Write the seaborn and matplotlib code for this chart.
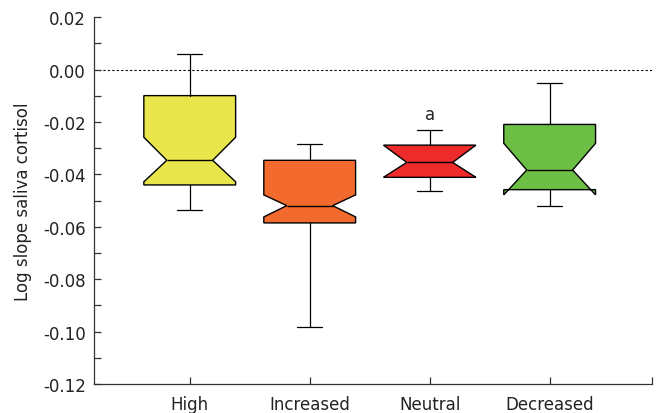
import matplotlib
matplotlib.use("Agg")
import matplotlib.pyplot as plt
import seaborn as sns

# Data
categories = ["High", "Increased", "Neutral", "Decreased"]
whisker_hi = [0.0061, -0.0283, -0.0230, -0.0049]
q3_vals = [-0.0099, -0.0346, -0.0288, -0.0209]
notch_hi = [-0.0258, -0.0478, -0.0289, -0.0281]
medians = [-0.0346, -0.0519, -0.0354, -0.0383]
notch_lo = [-0.0428, -0.0562, -0.0410, -0.0478]
q1_vals = [-0.0440, -0.0585, -0.0411, -0.0458]
whisker_lo = [-0.0537, -0.0981, -0.0463, -0.0521]
colors = ["#E9E64B", "#F26A2E", "#EE2B2B", "#6DBE45"]
y_ticks = [0.02, 0.00, -0.02, -0.04, -0.06, -0.08, -0.10, -0.12]
annotation = "a"

sns.set_style("ticks")
plt.rcParams['font.family'] = ['DejaVu Sans']

fig = plt.figure(figsize=(6.57, 4.14), dpi=100)
ax = fig.add_axes([0.1436, 0.070, 0.9924 - 0.1436, 0.9558 - 0.070])

stats = []
for i, c in enumerate(categories):
    stats.append(dict(label=c, whishi=whisker_hi[i], q3=q3_vals[i],
                      cihi=notch_hi[i], med=medians[i], cilo=notch_lo[i],
                      q1=q1_vals[i], whislo=whisker_lo[i], fliers=[]))

positions = list(range(len(categories)))
bp = ax.bxp(stats, positions=positions, widths=0.765, capwidths=0.21,
            shownotches=True, patch_artist=True, showfliers=False,
            boxprops=dict(linewidth=1.0, edgecolor="black"),
            medianprops=dict(color="black", linewidth=1.0),
            whiskerprops=dict(color="black", linewidth=0.9),
            capprops=dict(color="black", linewidth=0.9))
for patch, col in zip(bp["boxes"], colors):
    patch.set_facecolor(col)

ax.axhline(0.0, color="black", linestyle=(0, (2, 2)), linewidth=0.8, zorder=0)

ax.text(2, whisker_hi[2] + 0.0025, annotation, ha="center", va="bottom",
        fontsize=12, color="#222222")

ax.set_xlim(-0.795, 3.853)
ax.set_ylim(-0.12, 0.02)
ax.set_yticks(y_ticks)
ax.set_yticklabels([f"{v:.2f}" for v in y_ticks])
ax.set_yticks([0.01, -0.01, -0.03, -0.05, -0.07, -0.09, -0.11], minor=True)
ax.set_xticks(positions)
ax.set_xticklabels(categories)
ax.set_xticks([3.85], minor=True)

ax.tick_params(axis="both", which="both", direction="in", length=5,
               width=0.9, color="#333333", labelsize=12, labelcolor="#222222")
ax.tick_params(axis="x", which="major", pad=8)
ax.tick_params(axis="y", which="major", pad=6)
ax.set_ylabel("Log slope saliva cortisol", fontsize=12, color="#222222", labelpad=8)

for s in ["top", "right"]:
    ax.spines[s].set_visible(False)
for s in ["left", "bottom"]:
    ax.spines[s].set_linewidth(0.9)
    ax.spines[s].set_color("#333333")

fig.savefig("out.png", dpi=100)
